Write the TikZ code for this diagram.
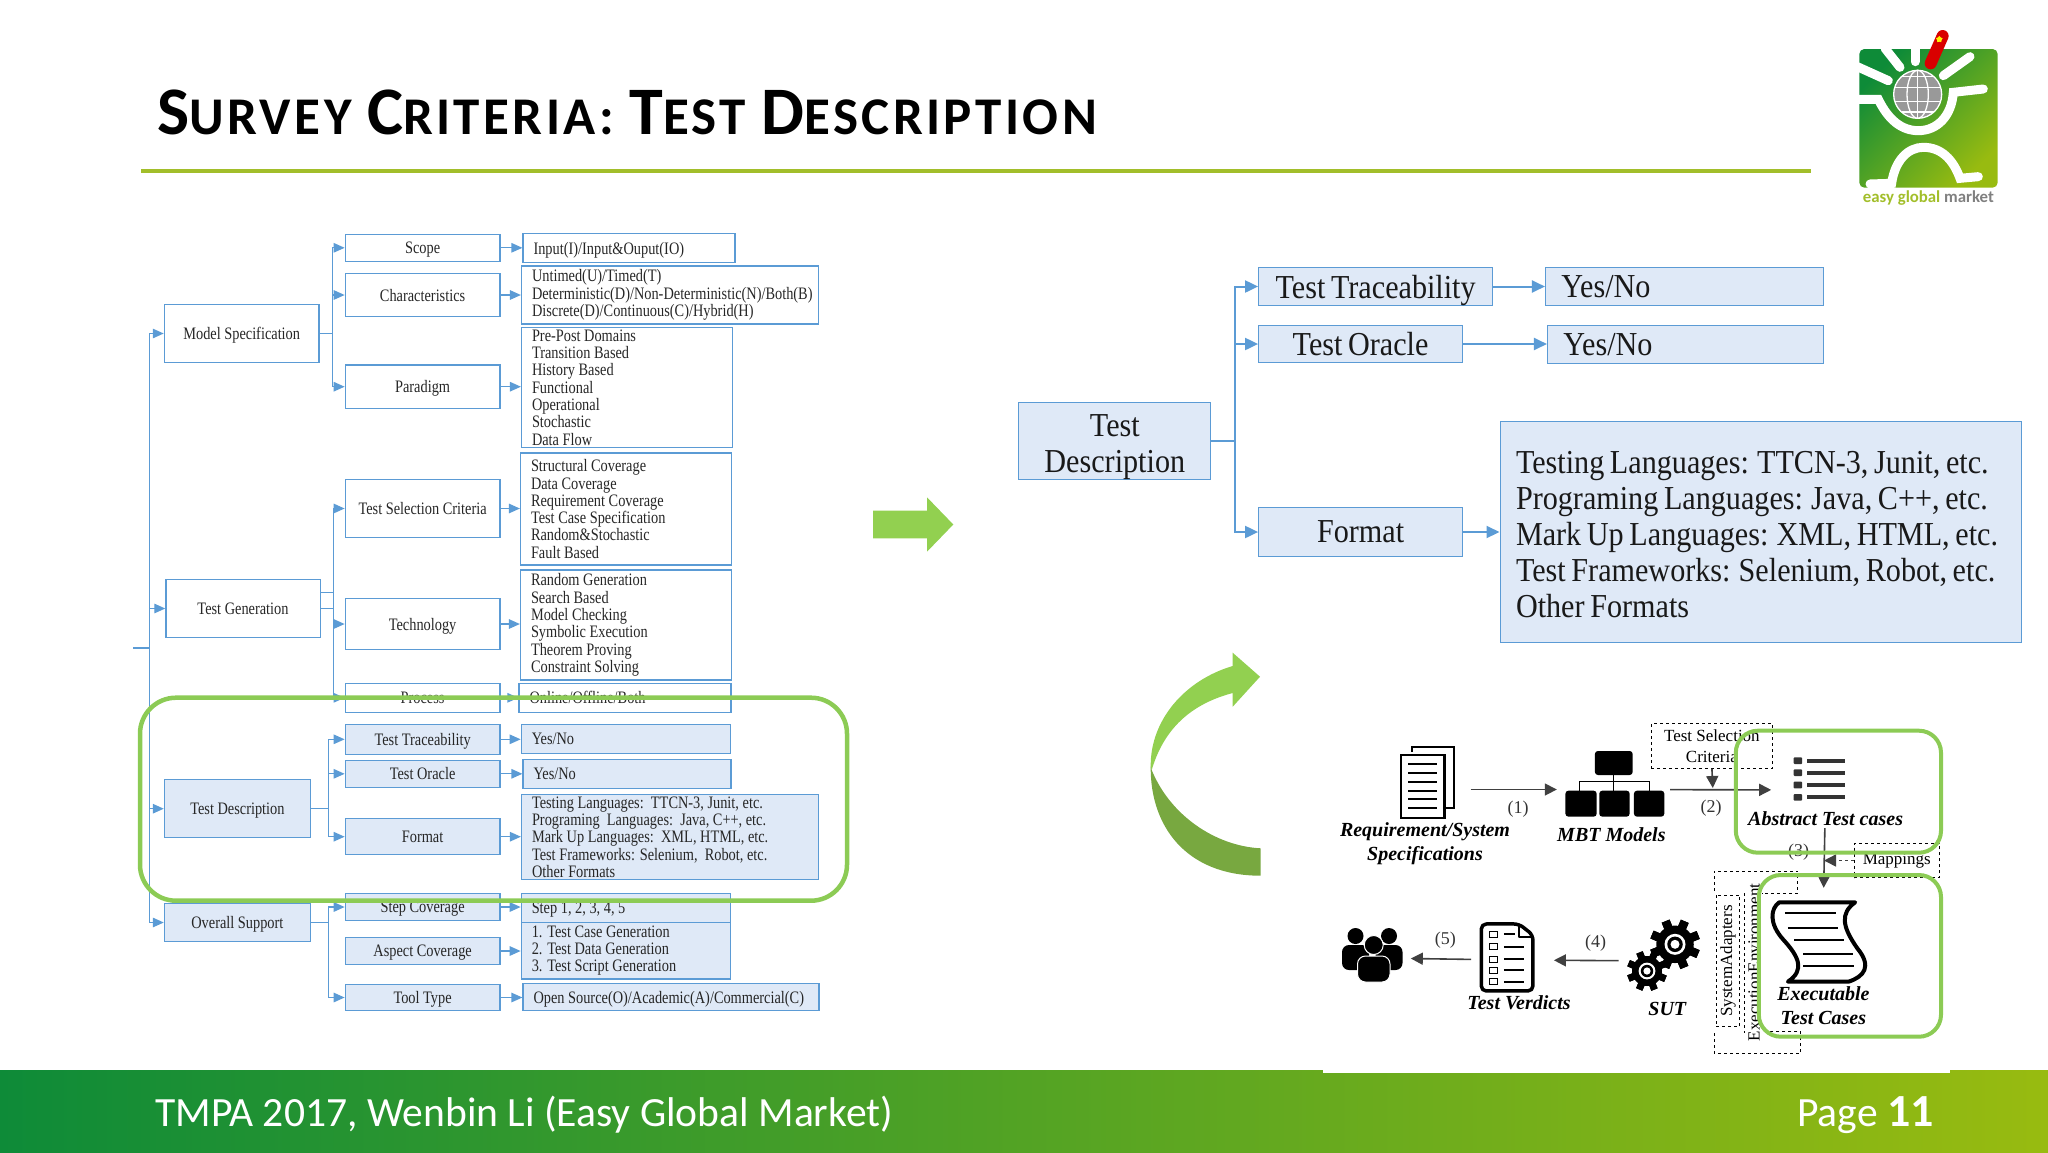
\documentclass[tikz,border=0pt]{standalone}
\usepackage{fontspec}
\setmainfont{Liberation Serif}
\newfontfamily\slidefont{Carlito}
\newfontfamily\titlefont[LetterSpace=6.5]{Carlito}
\newfontfamily\treefont[FakeStretch=0.82]{Liberation Serif}
\newfontfamily\bigtreefont[FakeStretch=0.9,WordSpace=0.75]{Liberation Serif}
\newcommand{\initialcap}[1]{{\fontsize{68}{70}\selectfont #1}}
\usetikzlibrary{arrows.meta,shapes.geometric}
\definecolor{treeblue}{HTML}{5B9BD5}
\definecolor{treefill}{HTML}{DFE9F7}
\definecolor{framegreen}{HTML}{8CCB55}
\definecolor{arrowgreen}{HTML}{92D050}
\definecolor{arrowdark}{HTML}{78A840}
\definecolor{ruleolive}{HTML}{A2BE2A}
\definecolor{footleft}{HTML}{0E8B38}
\definecolor{footmid}{HTML}{58A61C}
\definecolor{footright}{HTML}{98BB10}
\begin{document}
\begin{tikzpicture}[
    x=1pt, y=-1pt,
    oneline/.style={text depth=0pt},
    % small tree on the left
    rootbox/.style={rectangle,draw=treeblue,line width=1.2pt,text=black!85,font=\treefont\fontsize{17.5}{17.3}\selectfont,inner sep=1pt,oneline},
    critbox/.style={rootbox,minimum width=154.7pt},
    valbox/.style={rootbox,align=flush left,inner xsep=10.5pt,text depth=},
    shaded/.style={fill=treefill},
    treearrow/.style={-{Triangle[width=9.5pt,length=11pt]},draw=treeblue,line width=1.3pt},
    treeline/.style={draw=treeblue,line width=1.3pt},
    % larger tree on the right
    bigbox/.style={rectangle,draw=treeblue,line width=1pt,fill=treefill,text=black!90,font=\bigtreefont\fontsize{33.5}{36}\selectfont,inner sep=1pt,oneline},
    bigval/.style={bigbox,align=flush left,inner xsep=16pt,text depth=},
    bigarrow/.style={-{Triangle[width=12pt,length=13pt]},draw=treeblue,line width=2pt},
    bigline/.style={draw=treeblue,line width=2pt},
    % process figure
    iconbox/.style={rectangle,inner sep=0pt},
    iconlabel/.style={font=\fontsize{20}{24}\bfseries\itshape\selectfont,inner sep=0pt,align=center},
    steplabel/.style={font=\fontsize{18}{22}\selectfont,text=black!80,inner sep=0pt},
    dashbox/.style={rectangle,draw,dashed,line width=0.9pt,font=\fontsize{17}{21.5}\selectfont,inner sep=0pt,align=center},
    flow/.style={-{Triangle[width=12pt,length=12pt]},line width=1.6pt,draw=black!75},
    frame/.style={draw=framegreen,line width=4pt}
]
    \useasboundingbox (0,0) rectangle (2048,1152);

    % title and footer
    \node[anchor=base west,inner sep=0pt,font=\titlefont\fontsize{53}{70}\bfseries\selectfont] (slidetitle) at (157,134.3) {\initialcap{S}URVEY \initialcap{C}RITERIA: \initialcap{T}EST \initialcap{D}ESCRIPTION};
    \coordinate (ruleleft) at (141,170.7);
    \coordinate (ruleright) at (1811,170.7);
    \draw[ruleolive,line width=4pt] (ruleleft) -- (ruleright);
    \shade[left color=footleft,middle color=footmid,right color=footright] (0,1070) rectangle (2048,1152);
    \fill[white] (1323,1069) rectangle (1950,1072.5);
    \node[anchor=base west,inner sep=0pt,text=white,font=\slidefont\fontsize{41.6}{50}\selectfont] (footertext) at (155,1126) {TMPA 2017, Wenbin Li (Easy Global Market)};
    \node[anchor=base east,inner sep=0pt,text=white,font=\slidefont\fontsize{41.6}{50}\selectfont] (pagetext) at (1934,1126) {Page {\fontsize{46}{50}\bfseries\selectfont 11}};

    % logo
    \begin{scope}[shift={(1820,10)},x=0.3333pt,y=-0.3333pt]
        \shade[rounded corners=5pt,left color=footleft,right color=footright,shading angle=45] (118,117) rectangle (533,533);
        \draw[white,line width=9pt,line cap=round] (112,170) -- (205,212);
        \draw[white,line width=9pt,line cap=round] (195,115) -- (240,172);
        \draw[white,line width=9pt,line cap=round] (285,112) -- (285,155);
        \draw[white,line width=9pt,line cap=round] (370,197) -- (450,140);
        \draw[white,line width=9pt,line cap=round] (118,268) -- (175,268) .. controls (205,330) and (245,362) .. (295,362) .. controls (350,362) and (395,320) .. (400,247) -- (490,237);
        \draw[white,line width=9pt,line cap=round] (150,522) -- (215,520) .. controls (225,450) and (265,412) .. (310,412) .. controls (365,412) and (400,450) .. (420,505) -- (475,500);
        \fill[black!40] (293,253) circle[radius=72];
        \draw[white,line width=1.3pt] (293,253) circle[radius=72];
        \draw[white,line width=1.3pt] (293,253) ellipse (32 and 72);
        \draw[white,line width=1.3pt] (293,181) -- (293,325);
        \foreach \ypos/\halfw in {200/48,232/68,274/68,306/48}
            \draw[white,line width=1.3pt] (293-\halfw,\ypos) -- (293+\halfw,\ypos);
        \draw[red!85!black,line width=12pt,line cap=round] (332,160) -- (368,78);
        \node[star,star points=5,fill=yellow,inner sep=0pt,minimum size=7pt] (logostar) at (358,88) {};
        \node[inner sep=0pt,font=\slidefont\fontsize{16.8}{20}\bfseries\selectfont] (logotext) at (325,565) {\textcolor{ruleolive}{easy} \textcolor{ruleolive}{global} \textcolor{black!50}{market}};
    \end{scope}

    % tree: left column
    \node[rootbox,minimum width=154.7pt,minimum height=57.6pt] (model) at (241.7,333.5) {Model Specification};
    \node[rootbox,minimum width=154.2pt,minimum height=57.6pt] (testgen) at (243,608.5) {Test Generation};
    \node[rootbox,shaded,minimum width=146pt,minimum height=58pt] (testdesc) at (237.4,808.7) {Test Description};
    \node[rootbox,shaded,minimum width=146pt,minimum height=38.4pt] (overall) at (237.4,922.5) {Overall Support};

    % tree: criteria column
    \node[critbox,minimum height=27pt] (scope) at (422.6,247.8) {Scope};
    \node[critbox,minimum height=43.4pt] (charac) at (422.6,295) {Characteristics};
    \node[critbox,minimum height=43.3pt] (paradigm) at (422.6,386.7) {Paradigm};
    \node[critbox,minimum height=57.6pt] (selcrit) at (422.6,508.5) {Test Selection Criteria};
    \node[critbox,minimum height=50.3pt] (techno) at (422.6,624) {Technology};
    \node[critbox,minimum height=29pt] (process) at (422.6,697.8) {Process};
    \node[critbox,shaded,minimum height=30pt] (trace) at (422.6,739.3) {Test Traceability};
    \node[critbox,shaded,minimum height=27pt] (oracle) at (422.6,773.8) {Test Oracle};
    \node[critbox,shaded,minimum height=36pt] (format) at (422.6,836.7) {Format};
    \node[critbox,shaded,minimum height=27.7pt] (stepcov) at (422.6,907) {Step Coverage};
    \node[critbox,shaded,minimum height=26.6pt] (aspect) at (422.6,951) {Aspect Coverage};
    \node[critbox,shaded,minimum height=25.6pt] (tooltype) at (422.6,997.5) {Tool Type};

    % tree: value column
    \node[valbox,oneline,text width=191pt,minimum height=28.6pt] (scopeval) at (629,248) {Input(I)/Input\&Ouput(IO)};
    \node[valbox,text width=276pt,minimum height=58pt] (characval) at (670,295) {Untimed(U)/Timed(T)\\\mbox{Deterministic(D)/Non-Deterministic(N)/Both(B)}\\Discrete(D)/Continuous(C)/Hybrid(H)};
    \node[valbox,text width=190pt,minimum height=119.6pt] (paradigmval) at (627,387.5) {Pre-Post Domains\\Transition Based\\History Based\\Functional\\Operational\\Stochastic\\Data Flow};
    \node[valbox,text width=190pt,minimum height=112pt] (selcritval) at (626,509) {Structural Coverage\\Data Coverage\\Requirement Coverage\\Test Case Specification\\Random\&Stochastic\\Fault Based};
    \node[valbox,text width=190pt,minimum height=110pt] (technoval) at (626,625) {Random Generation\\Search Based\\Model Checking\\Symbolic Execution\\Theorem Proving\\Constraint Solving};
    \node[valbox,oneline,text width=191pt,minimum height=29pt] (processval) at (625,697.8) {Online/Offline/Both};
    \node[valbox,oneline,shaded,text width=188.5pt,minimum height=29pt] (traceval) at (626,739) {Yes/No};
    \node[valbox,oneline,shaded,text width=187pt,minimum height=29pt] (oracleval) at (627,774) {Yes/No};
    \node[valbox,shaded,text width=276pt,minimum height=85.7pt] (formatval) at (670,837) {Testing Languages:\ \ TTCN-3, Junit, etc.\\Programing\ \ Languages:\ \ Java, C++, etc.\\Mark Up Languages:\ \ XML, HTML, etc.\\Test Frameworks: Selenium,\ \ Robot, etc.\\Other Formats};
    \node[valbox,oneline,shaded,text width=188.5pt,minimum height=29pt] (stepcovval) at (626,908) {Step 1, 2, 3, 4, 5};
    \node[valbox,shaded,text width=188.5pt,minimum height=56.7pt] (aspectval) at (626,950.6) {1. Test Case Generation\\2. Test Data Generation\\3. Test Script Generation};
    \node[valbox,oneline,shaded,text width=275pt,minimum height=26.6pt] (tooltypeval) at (671,997) {Open Source(O)/Academic(A)/Commercial(C)};

    % tree: connectors
    \coordinate (rootstub) at (133,648);
    \coordinate (rootjoin) at (149.3,648);
    \draw[treeline] (rootstub) -- (rootjoin);
    \foreach \kid in {model,testgen,testdesc,overall}
        \draw[treearrow] (rootjoin) |- (\kid.west);

    \coordinate (modeljoin) at (332.5,333.5);
    \draw[treeline] (model.east) -- (modeljoin);
    \foreach \kid in {scope,charac,paradigm}
        \draw[treearrow] (modeljoin) |- (\kid.west);

    \coordinate (genjoin) at (333.4,608.5);
    \coordinate (genjoinup) at (333.4,592.7);
    \draw[treeline] (testgen.east) -- (genjoin);
    \draw[treeline] (testgen.east |- genjoinup) -- (genjoinup);
    \foreach \kid in {selcrit,techno,process}
        \draw[treearrow] (genjoin) |- (\kid.west);

    \coordinate (descjoin) at (328.3,808.7);
    \draw[treeline] (testdesc.east) -- (descjoin);
    \foreach \kid in {trace,oracle,format}
        \draw[treearrow] (descjoin) |- (\kid.west);

    \coordinate (supportjoin) at (328.3,922.5);
    \draw[treeline] (overall.east) -- (supportjoin);
    \foreach \kid in {stepcov,tooltype}
        \draw[treearrow] (supportjoin) |- (\kid.west);

    \foreach \kid in {scope,charac,paradigm,selcrit,techno,process,trace,oracle,format,stepcov,aspect,tooltype}
        \draw[treearrow] (\kid.east) -- (\kid val.west |- \kid.east);

    % the frame on the tree and the arrow beside it
    \draw[frame,line width=4.5pt,rounded corners=36pt] (140,697.7) rectangle (847,900.7);
    \fill[arrowgreen] (873,510.7) -- (927,510.7) -- (927,497.3) -- (953.3,524.5) -- (927,551.7) -- (927,538.3) -- (873,538.3) -- cycle;

    % larger tree
    \node[bigbox,align=center,text height=63pt,minimum width=192.3pt,minimum height=76.3pt] (bigdesc) at (1114.8,441) {Test\\Description};
    \node[bigbox,minimum width=234pt,minimum height=38.4pt] (bigtrace) at (1375.6,286.5) {Test Traceability};
    \node[bigbox,minimum width=204pt,minimum height=37pt] (bigoracle) at (1360.6,344) {Test Oracle};
    \node[bigbox,minimum width=204pt,minimum height=48.6pt] (bigformat) at (1360.6,532) {Format};
    \node[bigval,oneline,text width=246.5pt,minimum height=38.4pt] (bigtraceval) at (1684.7,286.5) {Yes/No};
    \node[bigval,oneline,text width=244.5pt,minimum height=38pt] (bigoracleval) at (1685.7,344.3) {Yes/No};
    \node[bigval,text height=28pt,text width=489.4pt,minimum height=220.6pt] (bigformatval) at (1760.7,532) {Testing Languages: TTCN-3, Junit, etc.\\Programing Languages: Java, C++, etc.\\Mark Up Languages: XML, HTML, etc.\\Test Frameworks: Selenium, Robot, etc.\\Other Formats};
    \coordinate (bigjoin) at (1235.3,441);
    \draw[bigline] (bigdesc.east) -- (bigjoin);
    \foreach \kid in {bigtrace,bigoracle,bigformat} {
        \draw[bigarrow] (bigjoin) |- (\kid.west);
        \draw[bigarrow] (\kid.east) -- (\kid val.west |- \kid.east);
    }

    % curved arrow
    \fill[arrowgreen] (1150.7,766.7) .. controls (1150,720) and (1185,680) .. (1232.7,666) -- (1232.7,652.7) -- (1260,676.7) -- (1232.7,706.7) -- (1232.7,693) .. controls (1195,703) and (1165,725) .. (1151.7,770) -- cycle;
    \fill[arrowdark] (1150.7,766.7) .. controls (1150,825) and (1185,875.7) .. (1260.7,875.7) -- (1260.7,848.3) .. controls (1215,846) and (1170,815) .. (1151.7,770) -- cycle;

    % process figure: icons
    \begin{scope}[shift={(1300,700)},x=0.4337pt,y=-0.3333pt]
        \draw[line width=1.8pt] (258,155) -- (258,140) -- (355,140) -- (355,325) -- (335,325);
        \draw[line width=2.2pt] (233,165) rectangle (333,353);
        \foreach \ypos in {193,220,246,272,298,323}
            \draw[line width=1.8pt] (250,\ypos) -- (315,\ypos);
        \fill[rounded corners=3pt] (680,153) rectangle (767,225);
        \foreach \xleft/\xright in {612/684,690/760,770/840}
            \fill[rounded corners=3pt] (\xleft,272) rectangle (\xright,350);
        \draw[line width=1pt] (723,225) -- (723,243);
        \draw[line width=1pt] (645,272) -- (645,243) -- (805,243) -- (805,272);
        \draw[line width=1pt] (723,243) -- (723,272);
        \foreach \ypos in {182,218,255,292} {
            \fill[black!80,rounded corners=1pt] (1138,\ypos-10) rectangle (1158,\ypos+10);
            \fill[black!80] (1168,\ypos-6) rectangle (1257,\ypos+6);
        }
        \draw[line width=4pt,line join=round] (1105,607) -- (1280,607) .. controls (1245,640) and (1250,680) .. (1285,745) .. controls (1320,800) and (1300,830) .. (1265,845) -- (1125,845) .. controls (1165,810) and (1150,770) .. (1115,720) .. controls (1080,670) and (1085,625) .. (1105,607) -- cycle;
        \foreach \xa/\xb/\ypos in {1118/1235/640,1125/1240/683,1140/1255/720,1160/1275/762,1160/1278/797}
            \draw[line width=2.2pt] (\xa,\ypos) -- (\xb,\ypos);
        \draw[line width=3.5pt,rounded corners=5pt,line join=round] (505,672) -- (418,672) -- (418,873) -- (537,873) -- (537,705) -- cycle;
        \draw[line width=2pt,line join=round] (505,675) -- (505,712) -- (537,712);
        \foreach \ypos in {703,740,777,810,845}
            \draw[line width=0.9pt] (437,\ypos-9) rectangle (455,\ypos+9);
        \foreach \ypos/\xright in {703/495,740/517,777/517,810/517,845/517}
            \draw[line width=2pt] (470,\ypos) -- (\xright,\ypos);
        % dashed outline round the rotated label
        \draw[dashed,line width=0.9pt] (955,573) -- (955,513) -- (1148,513) -- (1148,580) -- (1065,580);
        \draw[dashed,line width=0.9pt] (955,1000) -- (955,1060) -- (1155,1060) -- (1155,995) -- (1075,995);
        \draw[dashed,line width=0.9pt] (1025,580) -- (1025,1000);
    \end{scope}
    \foreach \gx/\gy/\rad in {1675/944.3/25,1647/971/20} {
        \foreach \ang in {0,45,...,315}
            \fill[rotate around={\ang+22:(\gx,\gy)}] (\gx-0.17*\rad,\gy-\rad) rectangle (\gx+0.17*\rad,\gy+\rad);
        \fill (\gx,\gy) circle[radius=0.75*\rad];
        \fill[white] (\gx,\gy) circle[radius=0.42*\rad];
        \fill (\gx,\gy) circle[radius=0.31*\rad];
        \fill[white] (\gx,\gy) circle[radius=0.18*\rad];
    }
    \foreach \px in {1355.5,1389} {
        \fill (\px,936) circle[radius=8];
        \fill[rounded corners=7pt] (\px-13.5,945) rectangle (\px+13.5,970);
    }
    \draw[white,fill=black,line width=1pt] (1373.7,945) circle[radius=9.5];
    \draw[white,fill=black,line width=1pt,rounded corners=8pt] (1357.5,956) rectangle (1390,982);

    % process figure: connectors and labels
    \node[iconbox,minimum width=69.4pt,minimum height=88pt] (specicon) at (1435.7,789.5) {};
    \node[iconbox,minimum width=113pt,minimum height=68pt] (mbticon) at (1613.5,789.5) {};
    \node[iconbox,minimum width=108.4pt,minimum height=76pt] (abstracticon) at (1825.6,790) {};
    \node[iconbox,minimum width=100pt,minimum height=112pt] (execicon) at (1822.6,944) {};
    \node[iconbox,minimum width=98.6pt,minimum height=70pt] (suticon) at (1668,961) {};
    \node[iconbox,minimum width=82.4pt,minimum height=70pt] (verdicticon) at (1512.5,960) {};
    \node[iconbox,minimum width=68.6pt,minimum height=54pt] (peopleicon) at (1376.3,958) {};
    \node[dashbox,minimum width=121.7pt,minimum height=44.3pt,text depth=0pt] (selcritbox) at (1711.9,746) {Test Selection\\Criteria};
    \coordinate (selhit) at (1712.8,788);
    \node[dashbox,minimum width=85.6pt,minimum height=34.4pt] (mapbox) at (1896.8,860.5) {Mappings};
    \coordinate (maphit) at (1824,860.5);
    \node[dashbox,rotate=90,minimum width=131.7pt,minimum height=23.7pt] (adapterbox) at (1728,961) {SystemAdapters};
    \node[rotate=90,inner sep=0pt,font=\fontsize{17}{20}\selectfont] (envlabel) at (1754,962.4) {ExecutionEnvironment};
    \draw[flow] (specicon) -- (mbticon);
    \draw[flow] (mbticon) -- (abstracticon);
    \draw[flow] (selcritbox.south) -- (selhit);
    \draw[flow] (abstracticon) -- (execicon);
    \draw[flow,dashed] (mapbox) -- (maphit);
    \draw[flow] (suticon) -- (verdicticon);
    \draw[flow] (verdicticon) -- (peopleicon);
    \node[iconlabel] (speclabel) at (1425,844) {Requirement/System\\Specifications};
    \node[iconlabel] (mbtlabel) at (1611.4,834.7) {MBT Models};
    \node[iconlabel] (abstractlabel) at (1825.6,818.3) {Abstract Test cases};
    \node[iconlabel] (execlabel) at (1823.4,1005.3) {Executable\\Test Cases};
    \node[iconlabel] (sutlabel) at (1667.3,1009.3) {SUT};
    \node[iconlabel] (verdictlabel) at (1519,1002.3) {Test Verdicts};
    \node[steplabel] (stepone) at (1518,809) {(1)};
    \node[steplabel] (steptwo) at (1711,807.7) {(2)};
    \node[steplabel] (stepthree) at (1798.7,852.3) {(3)};
    \node[steplabel] (stepfour) at (1595.7,943.3) {(4)};
    \node[steplabel] (stepfive) at (1445.3,940) {(5)};

    % frames on the figure
    \draw[frame,rounded corners=22pt] (1735.8,730.7) rectangle (1941,852.7);
    \draw[frame,rounded corners=22pt] (1758.8,875) rectangle (1941,1036.7);
\end{tikzpicture}
\end{document}
